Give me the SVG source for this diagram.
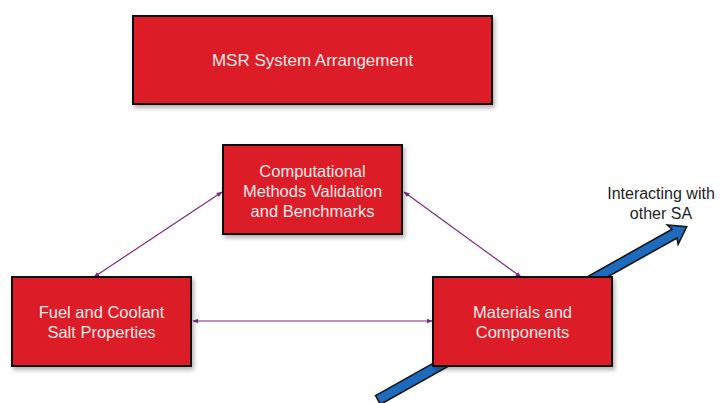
<svg xmlns="http://www.w3.org/2000/svg" width="723" height="403" viewBox="0 0 723 403">
  <style>
    .box { fill: #dc1f27; stroke: #111; stroke-width: 2; filter: url(#shadow); }
    .lbl { font-family: "Liberation Sans", Arial, sans-serif; font-size: 16.5px; fill: #fbe8e8; text-anchor: middle; }
    .note { font-family: "Liberation Sans", Arial, sans-serif; font-size: 16px; fill: #1e1e1e; text-anchor: middle; }
    .link { stroke: #7a2d80; stroke-width: 1.2; fill: none; marker-start: url(#tip); marker-end: url(#tip); }
  </style>
  <defs>
    <filter id="shadow" x="-10%" y="-10%" width="125%" height="130%">
      <feDropShadow dx="2" dy="3" stdDeviation="2" flood-color="#000" flood-opacity="0.3"/>
    </filter>
    <marker id="tip" viewBox="0 0 10 10" refX="9" refY="5" markerWidth="6" markerHeight="6" orient="auto-start-reverse" markerUnits="userSpaceOnUse">
      <path d="M0,1 L10,5 L0,9 Z" fill="#7a2d80"/>
    </marker>
  </defs>

  <rect width="723" height="403" fill="#ffffff"/>

  <!-- wide blue arrow passing behind the materials box -->
  <g id="external-arrow" transform="translate(378,400) rotate(-29.3)">
    <path d="M0,-5 L340,-5 L338,-11 L354,0 L338,11 L340,5 L0,5 Z" fill="#1d6bbf" stroke="#151515" stroke-width="1.6" stroke-linejoin="miter"/>
  </g>

  <g id="connectors">
    <line class="link" x1="222" y1="192" x2="94" y2="277"/>
    <line class="link" x1="404" y1="192" x2="521" y2="277"/>
    <line class="link" x1="193" y1="321" x2="432" y2="321"/>
  </g>

  <g id="msr-system">
    <rect class="box" x="133" y="16" width="359" height="88"/>
    <text class="lbl" x="312.5" y="66" style="font-size:17px">MSR System Arrangement</text>
  </g>

  <g id="computational-methods">
    <rect class="box" x="223" y="145" width="179" height="89"/>
    <text class="lbl" x="312.5" y="177">Computational</text>
    <text class="lbl" x="312.5" y="197">Methods Validation</text>
    <text class="lbl" x="312.5" y="217">and Benchmarks</text>
  </g>

  <g id="fuel-coolant">
    <rect class="box" x="12" y="277" width="179" height="89"/>
    <text class="lbl" x="101.5" y="318">Fuel and Coolant</text>
    <text class="lbl" x="101.5" y="338">Salt Properties</text>
  </g>

  <g id="materials-components">
    <rect class="box" x="433" y="277" width="179" height="89"/>
    <text class="lbl" x="522.5" y="318">Materials and</text>
    <text class="lbl" x="522.5" y="338">Components</text>
  </g>

  <g id="interacting-label">
    <text class="note" x="661" y="199">Interacting with</text>
    <text class="note" x="661" y="219">other SA</text>
  </g>
</svg>
